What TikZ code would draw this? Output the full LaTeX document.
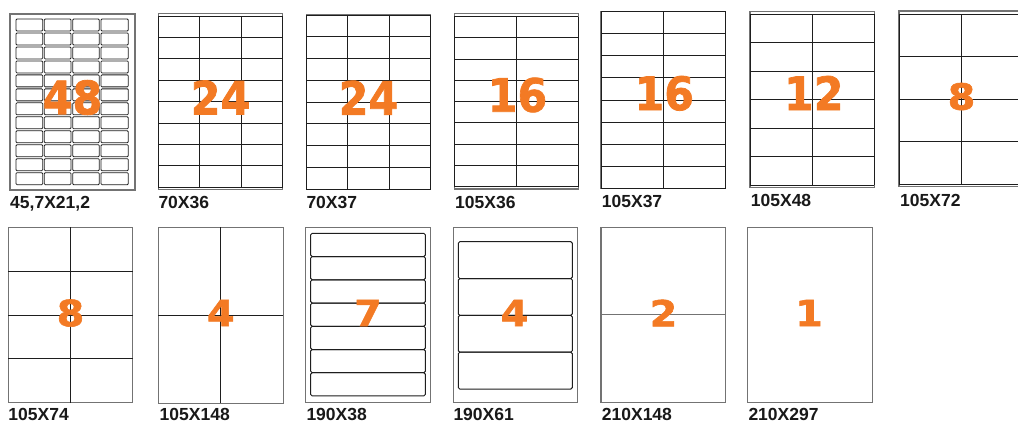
\documentclass[tikz,border=0pt]{standalone}
\usepackage{graphicx}
\usepackage{fontspec}
\setmainfont{Liberation Sans}
\newfontfamily\numfont{DejaVu Sans}[BoldFeatures={FakeBold=1.6}]
\definecolor{lblorange}{RGB}{243,122,36}
\definecolor{sheetgray}{RGB}{115,115,115}
\definecolor{gridblack}{RGB}{30,30,30}
\tikzset{
  sheet/.style={draw=sheetgray, line width=1.1pt},
  gridline/.style={draw=gridblack, line width=1pt},
  smalllbl/.style={draw=gridblack, line width=0.8pt, rounded corners=1pt},
  striplbl/.style={draw=gridblack, line width=1pt, rounded corners=1.5pt},
  tag/.style={anchor=base west, inner sep=0pt, text=black!90,
    font=\bfseries\fontsize{17.5}{20}\selectfont},
  bignum/.style={inner sep=0pt, text=lblorange,
    font=\numfont\bfseries\fontsize{46}{46}\selectfont},
  smallnum/.style={inner sep=0pt, text=lblorange,
    font=\numfont\bfseries\fontsize{36}{36}\selectfont}
}
\begin{document}
\begin{tikzpicture}[x=1pt,y=-1pt]
\useasboundingbox (0,0) rectangle (1018,423);
\clip (0,0) rectangle (1018,423);
\fill[white] (0,0) rectangle (1018,423);

% ---------- Row 1 ----------
% Sheet 1: 48 labels
\draw[sheet] (10,14) rectangle (135,190);
\foreach \xa/\xb in {16/42.7, 44.3/71, 72.7/99.3, 101/128.3}
  \foreach \r in {0,...,11}
    \draw[smalllbl] (\xa,{19+\r*13.97}) rectangle (\xb,{31+\r*13.97});
\node[bignum] (n1) at (72.5,97.5) {\scalebox{0.93}[1]{48}};
\node[tag] (t1) at (10,208) {45,7X21,2};

% Sheet 2: 24 (70x36)
\draw[sheet] (158.3,13.3) rectangle (282.7,189.3);
\foreach \k in {0,...,8}
  \draw[gridline] (158.3,{16+\k*21.41}) -- (282.7,{16+\k*21.41});
\draw[gridline] (158.3,16) -- (158.3,187.3) (199.8,16) -- (199.8,187.3)
  (241.3,16) -- (241.3,187.3) (282.7,16) -- (282.7,187.3);
\node[bignum] (n2) at (220.6,97.5) {\scalebox{0.93}[1]{24}};
\node[tag] (t2) at (158.3,208.5) {70X36};

% Sheet 3: 24 (70x37)
\draw[sheet] (306.3,15) rectangle (430.7,189.3);
\foreach \k in {0,...,8}
  \draw[gridline] (306.3,{15+\k*21.79}) -- (430.7,{15+\k*21.79});
\draw[gridline] (306.3,15) -- (306.3,189.3) (347.8,15) -- (347.8,189.3)
  (389.2,15) -- (389.2,189.3) (430.7,15) -- (430.7,189.3);
\node[bignum] (n3) at (368.5,97.7) {\scalebox{0.93}[1]{24}};
\node[tag] (t3) at (306.3,208.5) {70X37};

% Sheet 4: 16 (105x36)
\draw[sheet] (454.3,13.3) rectangle (578.3,189);
\foreach \k in {0,...,8}
  \draw[gridline] (454.3,{16.7+\k*21.25}) -- (578.3,{16.7+\k*21.25});
\draw[gridline] (454.3,16.7) -- (454.3,186.7) (516.3,16.7) -- (516.3,186.7)
  (578.3,16.7) -- (578.3,186.7);
\node[bignum] (n4) at (517.5,95) {\scalebox{0.93}[1]{16}};
\node[tag] (t4) at (455,208) {105X36};

% Sheet 5: 16 (105x37)
\draw[sheet] (601,11.7) rectangle (725.7,188.3);
\foreach \k in {0,...,8}
  \draw[gridline] (601,{11.7+\k*22.08}) -- (725.7,{11.7+\k*22.08});
\draw[gridline] (601,11.7) -- (601,188.3) (663.3,11.7) -- (663.3,188.3)
  (725.7,11.7) -- (725.7,188.3);
\node[bignum] (n5) at (664.3,93.3) {\scalebox{0.93}[1]{16}};
\node[tag] (t5) at (601.7,207.3) {105X37};

% Sheet 6: 12 (105x48)
\draw[sheet] (750,11.7) rectangle (874.3,187.7);
\foreach \k in {0,...,6}
  \draw[gridline] (750,{14.3+\k*28.45}) -- (874.3,{14.3+\k*28.45});
\draw[gridline] (750,14.3) -- (750,185) (812.3,14.3) -- (812.3,185)
  (874.3,14.3) -- (874.3,185);
\node[bignum] (n6) at (813.8,93) {\scalebox{0.93}[1]{12}};
\node[tag] (t6) at (750.7,206.7) {105X48};

% Sheet 7: 8 (105x72)
\draw[sheet] (899,11) rectangle (1024,186.7);
\foreach \k in {0,...,4}
  \draw[gridline] (899,{14.3+\k*42.43}) -- (1024,{14.3+\k*42.43});
\draw[gridline] (899,14.3) -- (899,184) (961.7,14.3) -- (961.7,184);
\node[smallnum] (n7) at (961.5,96.5) {\scalebox{1.1}[1]{8}};
\node[tag] (t7) at (900,206) {105X72};

% ---------- Row 2 ----------
% Sheet 8: 8 (105x74)
\draw[sheet] (8.3,227.3) rectangle (132.7,402.7);
\foreach \k in {1,...,3}
  \draw[gridline] (8.3,{227.3+\k*43.85}) -- (132.7,{227.3+\k*43.85});
\draw[gridline] (70.5,227.3) -- (70.5,402.7);
\node[smallnum] (n8) at (70.5,313) {\scalebox{1.1}[1]{8}};
\node[tag] (t8) at (8.3,420.3) {105X74};

% Sheet 9: 4 (105x148)
\draw[sheet] (158.3,227.3) rectangle (283.3,403.3);
\draw[gridline] (158.3,315.7) -- (283.3,315.7);
\draw[gridline] (220.8,227.3) -- (220.8,403.3);
\node[smallnum] (n9) at (220.8,313) {\scalebox{1.1}[1]{4}};
\node[tag] (t9) at (159.5,420.3) {105X148};

% Sheet 10: 7 (190x38)
\draw[sheet] (305.3,227.3) rectangle (430.7,402.7);
\foreach \r in {0,...,6}
  \draw[striplbl] (310.7,{233.3+\r*23.24}) rectangle (425.3,{233.3+(\r+1)*23.24});
\node[smallnum] (n10) at (368,313) {\scalebox{1.1}[1]{7}};
\node[tag] (t10) at (306.3,420.3) {190X38};

% Sheet 11: 4 (190x61)
\draw[sheet] (453.3,227.3) rectangle (577.7,402.7);
\foreach \r in {0,...,3}
  \draw[striplbl] (458.3,{241.7+\r*36.83}) rectangle (572.3,{241.7+(\r+1)*36.83});
\node[smallnum] (n11) at (514.5,313) {\scalebox{1.1}[1]{4}};
\node[tag] (t11) at (453.3,420.3) {190X61};

% Sheet 12: 2 (210x148)
\draw[sheet] (601,227.3) rectangle (725.7,402.7);
\draw[draw=sheetgray, line width=1.1pt] (601,314.5) -- (725.7,314.5);
\node[smallnum] (n12) at (663.5,313) {\scalebox{1.1}[1]{2}};
\node[tag] (t12) at (601.7,420.3) {210X148};

% Sheet 13: 1 (210x297)
\draw[sheet] (747.7,227.3) rectangle (872.3,402.7);
\node[smallnum] (n13) at (809,313) {\scalebox{1.1}[1]{1}};
\node[tag] (t13) at (748.3,420.3) {210X297};
\end{tikzpicture}
\end{document}
